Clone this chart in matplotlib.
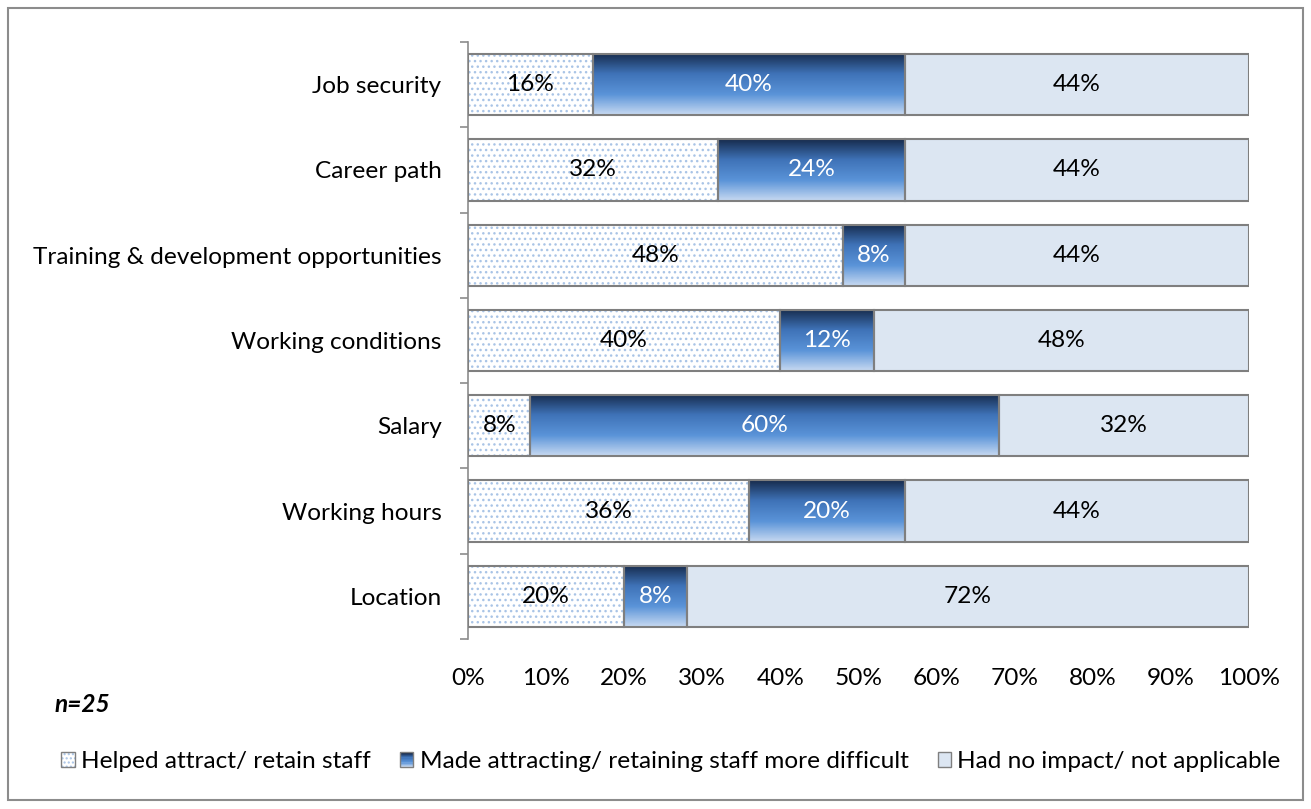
import matplotlib
matplotlib.use("Agg")
import matplotlib.pyplot as plt
import numpy as np
from matplotlib.colors import LinearSegmentedColormap
from matplotlib.patches import Patch, Rectangle
from matplotlib.legend_handler import HandlerBase

plt.rcParams['font.family'] = ['Lato', 'DejaVu Sans']

categories = ["Job security", "Career path", "Training & development opportunities",
              "Working conditions", "Salary", "Working hours", "Location"]
helped = [16, 32, 48, 40, 8, 36, 20]
difficult = [40, 24, 8, 12, 60, 20, 8]
no_impact = [44, 44, 44, 48, 32, 44, 72]
series_names = ["Helped attract/ retain staff",
                "Made attracting/ retaining staff more difficult",
                "Had no impact/ not applicable"]
xticks = [0, 10, 20, 30, 40, 50, 60, 70, 80, 90, 100]

W, H = 1311, 809
FS = 17.6
fig = plt.figure(figsize=(W / 100, H / 100), dpi=100)
fig.patches.append(Rectangle((8 / W, 1 - 800 / H), (1303 - 8) / W, (800 - 8) / H,
                             transform=fig.transFigure, fill=False,
                             edgecolor='#8c8c8c', linewidth=1.5))

ax = fig.add_axes([468 / W, 1 - 639 / H, (1249 - 468) / W, (639 - 42) / H])
for s in ['top', 'right', 'bottom']:
    ax.spines[s].set_visible(False)
ax.spines['left'].set_color('#8c8c8c')
ax.spines['left'].set_linewidth(1.2)

n = len(categories)
ypos = np.arange(n)[::-1]
bh = 0.72
edge = '#7f7f7f'
dotc = '#a9c4e6'
grad_colors = ['#172c4e', '#3f73b8', '#5a93d8', '#c6d9f1']
grad = LinearSegmentedColormap.from_list('g', grad_colors)
gimg = np.linspace(0, 1, 100).reshape(-1, 1)

for i in range(n):
    y = ypos[i]
    h0, d, ni = helped[i], difficult[i], no_impact[i]
    ax.barh(y, h0, height=bh, left=0, color='white', edgecolor=dotc,
            hatch='...', linewidth=0, zorder=2)
    ax.barh(y, h0, height=bh, left=0, fill=False, edgecolor=edge, linewidth=1.5, zorder=4)
    ax.imshow(gimg, cmap=grad, extent=[h0, h0 + d, y - bh / 2, y + bh / 2],
              aspect='auto', origin='upper', zorder=2, interpolation='bilinear')
    ax.barh(y, d, height=bh, left=h0, fill=False, edgecolor=edge, linewidth=1.5, zorder=4)
    ax.barh(y, ni, height=bh, left=h0 + d, color='#dce6f2', edgecolor=edge,
            linewidth=1.5, zorder=3)
    ax.text(h0 / 2, y, f"{h0}%", ha='center', va='center', fontsize=FS, color='black', zorder=5)
    ax.text(h0 + d / 2, y, f"{d}%", ha='center', va='center', fontsize=FS, color='white', zorder=5)
    ax.text(h0 + d + ni / 2, y, f"{ni}%", ha='center', va='center', fontsize=FS, color='black', zorder=5)

ax.set_xlim(0, 100)
ax.set_ylim(-0.5, n - 0.5)
ax.set_yticks(ypos)
ax.set_yticklabels(categories)
ax.set_yticks(np.arange(-0.5, n, 1), minor=True)
ax.tick_params(axis='y', which='major', length=0, pad=19, labelsize=FS)
ax.tick_params(axis='y', which='minor', length=6, width=1.2, color='#8c8c8c', direction='out')
ax.set_xticks(xticks)
ax.set_xticklabels([f"{v}%" for v in xticks])
ax.tick_params(axis='x', length=0, pad=21, labelsize=FS)

fig.text(55 / W, 1 - 705 / H, "n=25", fontsize=FS, fontweight='bold', fontstyle='italic',
         ha='left', va='center')


class DotHandler(HandlerBase):
    def create_artists(self, legend, orig, xd, yd, w, h, fontsize, trans):
        r1 = Rectangle((-xd, -yd), w, h, facecolor='white', edgecolor=dotc, hatch='....',
                       linewidth=0, transform=trans)
        r2 = Rectangle((-xd, -yd), w, h, fill=False, edgecolor=edge, linewidth=1, transform=trans)
        return [r1, r2]


class GradHandler(HandlerBase):
    def create_artists(self, legend, orig, xd, yd, w, h, fontsize, trans):
        arts = []
        k = 12
        for j in range(k):
            c = grad(j / (k - 1))
            arts.append(Rectangle((-xd, -yd + h * (k - 1 - j) / k), w, h / k, facecolor=c,
                                  edgecolor='none', transform=trans))
        arts.append(Rectangle((-xd, -yd), w, h, fill=False, edgecolor=edge, linewidth=1,
                              transform=trans))
        return arts


handles = [Patch(label=series_names[0]), Patch(label=series_names[1]),
           Patch(facecolor='#dce6f2', edgecolor=edge, linewidth=1)]
leg = fig.legend(handles, series_names, loc='center', bbox_to_anchor=(671 / W, 1 - 762 / H),
                 ncol=3, frameon=False, fontsize=FS, handlelength=0.55, handleheight=0.55,
                 handletextpad=0.25, columnspacing=1.2,
                 handler_map={handles[0]: DotHandler(), handles[1]: GradHandler()})

fig.savefig("out.png", dpi=100)
